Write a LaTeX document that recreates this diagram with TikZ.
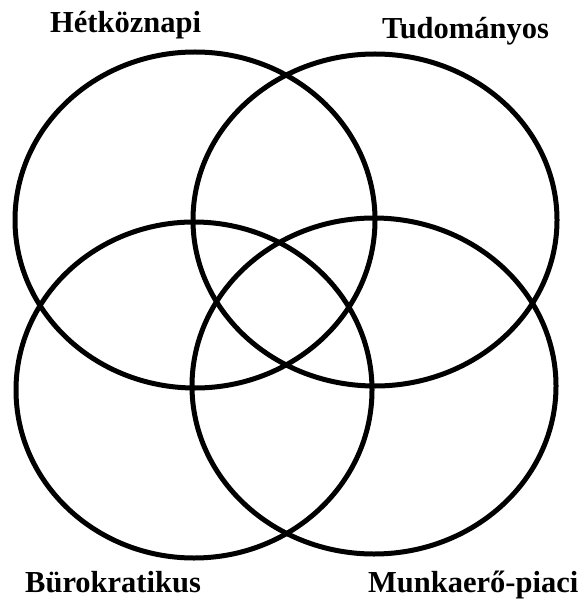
\documentclass[tikz,border=0pt]{standalone}
\usepackage{fontspec}
\setmainfont{Liberation Serif}
\begin{document}
\begin{tikzpicture}[x=1pt,y=-1pt,
  ring/.style={draw=black,line width=5pt},
  lab/.style={font=\fontsize{30.5}{33}\selectfont\bfseries,inner sep=0pt,anchor=base west}]
\useasboundingbox[fill=white] (0,0) rectangle (584,601);
\draw[ring] (195,220) ellipse [x radius=180, y radius=168];
\draw[ring] (375,220) ellipse [x radius=182, y radius=166];
\draw[ring] (194,390) ellipse [x radius=178, y radius=168];
\draw[ring] (374,386) ellipse [x radius=182, y radius=168];
\node[lab] (h) at (50,33) {Hétköznapi};
\node[lab] (t) at (382,39) {Tudományos};
\node[lab] (b) at (25,592) {Bürokratikus};
\node[lab] (m) at (368,592) {Munkaerő-piaci};
\end{tikzpicture}
\end{document}
